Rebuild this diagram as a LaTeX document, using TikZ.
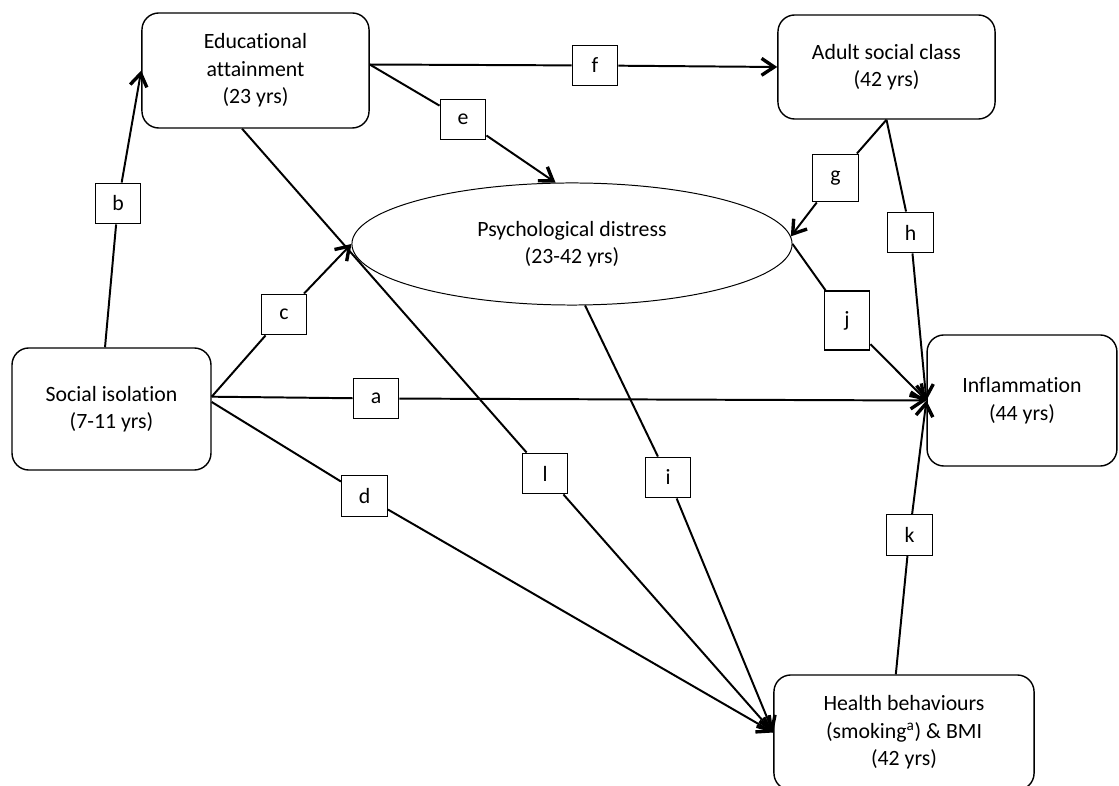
\documentclass[tikz,border=0pt]{standalone}
\usepackage{fontspec}
\setmainfont{Carlito}[Ligatures={NoCommon,NoContextual}]
\usetikzlibrary{arrows.meta,shapes.geometric}
\begin{document}
\begin{tikzpicture}[x=0.025cm,y=-0.025cm,
  font=\fontsize{15.5}{19.5}\selectfont,
  box/.style={draw, line width=1pt, rounded corners=12pt, align=center, inner sep=0pt},
  lbl/.style={draw, line width=0.8pt, fill=white, minimum width=32.6pt, minimum height=29pt, inner sep=0pt},
  conn/.style={line width=1.4pt},
  arr/.style={conn, -{Straight Barb[length=9pt,width=12pt,line width=2.4pt]}}]
\useasboundingbox (0,0) rectangle (1119,786);
\fill[white] (0,0) rectangle (1119,786);

\node[box, minimum width=161.5pt, minimum height=81.8pt] (edu) at (255.5,70.5) {Educational\\attainment\\(23 yrs)};
\node[box, minimum width=154.4pt, minimum height=74pt] (adult) at (886.5,67) {Adult social class\\(42 yrs)};
\node[draw, ellipse, line width=0.7pt, minimum width=313pt, minimum height=86.8pt, align=center, inner sep=0pt] (psy) at (572,244) {Psychological distress\\(23-42 yrs)};
\node[box, minimum width=141.5pt, minimum height=86.8pt] (soc) at (111.5,409) {Social isolation\\(7-11 yrs)};
\node[box, minimum width=135pt, minimum height=93.2pt] (infl) at (1022,400.5) {Inflammation\\(44 yrs)};
\node[box, minimum width=185pt, minimum height=81.8pt] (hb) at (904,732.5) {Health behaviours\\(smoking\textsuperscript{a}) \& BMI\\(42 yrs)};

\node[lbl] (lf) at (595,65.5) {f};
\node[lbl] (le) at (463,119.5) {e};
\node[lbl] (lb) at (118,203.5) {b};
\node[lbl] (lc) at (284,314.5) {c};
\node[lbl, minimum height=34pt] (lg) at (835.5,178) {g};
\node[lbl] (lh) at (910.5,232.5) {h};
\node[lbl, minimum height=42pt] (lj) at (847,320.5) {j};
\node[lbl] (la) at (376,398.5) {a};
\node[lbl] (ld) at (364.5,496) {d};
\node[lbl] (ll) at (545,473.5) {l};
\node[lbl] (li) at (668,477.5) {i};
\node[lbl] (lk) at (909.5,535) {k};

\draw[conn] (edu.3) -- (lf); \draw[arr] (lf) -- (adult.west);
\draw[conn] (edu.3) -- (le); \draw[arr] (le) -- (psy.105);
\draw[conn] (soc.96) -- (lb); \draw[arr] (lb) -- (edu.west);
\draw[conn] (soc.7) -- (lc); \draw[arr] (lc) -- (psy.west);
\draw[conn] (adult.south) -- (lg); \draw[arr] (lg) -- (psy.2);
\draw[conn] (adult.south) -- (lh); \draw[arr] (lh) -- (infl.west);
\draw[conn] (psy.east) -- (lj); \draw[arr] (lj) -- (infl.west);
\draw[conn] (soc.7) -- (la); \draw[arr] (la) -- (infl.west);
\draw[conn] (soc.4) -- (ld); \draw[arr] (ld) -- (hb.west);
\draw[conn] (edu.257) -- (ll); \draw[arr] (ll) -- (hb.west);
\draw[conn] (psy.282) -- (li); \draw[arr] (li) -- (hb.west);
\draw[conn] (hb.98) -- (lk); \draw[arr] (lk) -- (infl.west);
\end{tikzpicture}
\end{document}
